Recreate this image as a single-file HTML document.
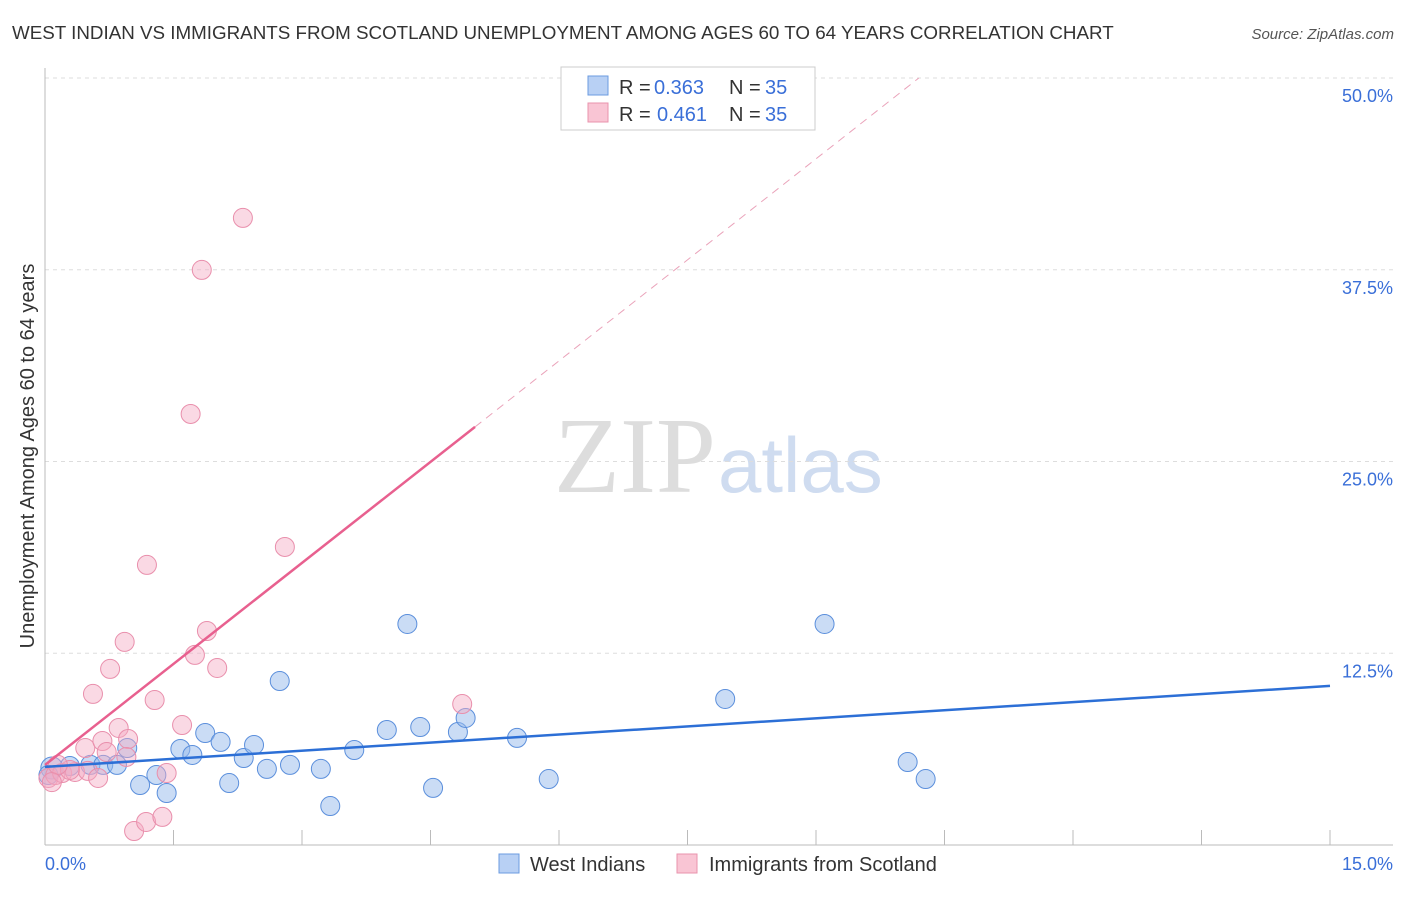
<!DOCTYPE html>
<html><head><meta charset="utf-8"><style>
body{margin:0;background:#fff;font-family:"Liberation Sans",sans-serif}
</style></head><body>
<svg width="1406" height="892" xmlns="http://www.w3.org/2000/svg" font-family="Liberation Sans, sans-serif">
<text x="12" y="39" font-size="18.8" fill="#333">WEST INDIAN VS IMMIGRANTS FROM SCOTLAND UNEMPLOYMENT AMONG AGES 60 TO 64 YEARS CORRELATION CHART</text>
<text x="1394" y="39" font-size="15" fill="#555" font-style="italic" text-anchor="end">Source: ZipAtlas.com</text>
<text x="0" y="0" transform="translate(34,456) rotate(-90)" font-size="20" fill="#333" text-anchor="middle">Unemployment Among Ages 60 to 64 years</text>
<text x="716" y="492" font-size="108" fill="#ddd" font-family="Liberation Serif, serif" text-anchor="end">ZIP</text>
<text x="718" y="492" font-size="78" fill="#cfdcf0">atlas</text>
<g id="grid"></g>
<g id="marks"></g>
<rect x="561" y="67" width="254" height="63" fill="#fff" stroke="#ccc"/>
<rect x="588" y="76" width="20" height="19" fill="#b8d0f4" stroke="#6b9be0"/>
<rect x="588" y="103" width="20" height="19" fill="#f9c5d4" stroke="#e993ad"/>
<g font-size="20" fill="#333">
<text x="619" y="94">R =</text><text x="654" y="94" fill="#3a6fd8">0.363</text><text x="729" y="94">N =</text><text x="765" y="94" fill="#3a6fd8">35</text></g>
<g font-size="20" fill="#333">
<text x="619" y="121">R =</text><text x="657" y="121" fill="#3a6fd8">0.461</text><text x="729" y="121">N =</text><text x="765" y="121" fill="#3a6fd8">35</text></g>
<rect x="499" y="854" width="20" height="19" fill="#b8d0f4" stroke="#6b9be0"/>
<text x="530" y="871" font-size="20" fill="#333">West Indians</text>
<rect x="677" y="854" width="20" height="19" fill="#f9c5d4" stroke="#e993ad"/>
<text x="709" y="871" font-size="20" fill="#333">Immigrants from Scotland</text>
</svg>
<script>
const xTicks=[0,1.5,3,4.5,6,7.5,9,10.5,12,13.5,15];
const yTicks=[12.5,25,37.5,50];
const yTickLabels=["12.5%","25.0%","37.5%","50.0%"];
const xEndLabels=["0.0%","15.0%"];
const blueX=[0.08,0.29,0.53,0.68,0.84,0.96,1.11,1.30,1.42,1.58,1.72,1.87,2.05,2.15,2.32,2.44,2.59,2.74,2.86,3.22,3.33,3.61,3.99,4.23,4.38,4.53,4.82,4.91,5.51,5.88,7.94,9.10,10.07,10.28,0.04];
const blueY=[5.02,5.15,5.22,5.22,5.22,6.32,3.91,4.56,3.39,6.26,5.87,7.30,6.72,4.04,5.67,6.52,4.96,10.69,5.22,4.96,2.54,6.19,7.50,14.41,7.69,3.72,7.37,8.28,6.98,4.30,9.52,14.41,5.41,4.30,4.56];
const pinkX=[0.04,0.12,0.20,0.35,0.50,0.47,0.56,0.62,0.67,0.72,0.76,0.86,0.93,0.97,1.04,1.18,1.19,1.28,1.37,1.42,1.60,1.70,1.75,1.83,1.89,2.01,2.31,2.80,4.87,0.95,0.29,0.15,0.08];
const pinkY=[4.37,4.56,4.69,4.76,4.83,6.32,9.85,4.37,6.78,6.06,11.48,7.63,13.24,6.91,0.91,1.50,18.26,9.45,1.83,4.69,7.82,28.10,12.39,37.49,13.95,11.54,40.88,19.43,9.19,5.74,4.89,5.22,4.10];
const blueLine=[5.09,10.37]; // y at x=0 and x=15
const pinkLine=[5.22,4.39]; // intercept, slope
const NS="http://www.w3.org/2000/svg";
const X=v=>45+v*(1285/15), Y=v=>845-v*(767/50);
function mk(t,a,p){const e=document.createElementNS(NS,t);for(const k in a)e.setAttribute(k,a[k]);p.appendChild(e);return e;}
const g=document.getElementById('grid'), m=document.getElementById('marks');
yTicks.forEach((t,i)=>{
 const l=mk('line',{x1:45,x2:1393,y1:Y(t),y2:Y(t),stroke:'#ddd','stroke-dasharray':'4,4'},g);
 
 
 const tx=mk('text',{x:1393,y:Y(t)+24,'font-size':18,fill:'#3a6fd8','text-anchor':'end'},g);
 tx.textContent=yTickLabels[i];
 
 
});
const ax=mk('line',{x1:45,x2:45,y1:68,y2:845,stroke:'#bbb'},g);


const bx=mk('line',{x1:45,x2:1393,y1:845,y2:845,stroke:'#bbb'},g);


xTicks.forEach(t=>{
 const l=mk('line',{x1:X(t),x2:X(t),y1:830,y2:845,stroke:'#bbb'},g);
 
 
});
[[0,'start',45],[15,'end',1393]].forEach((d,i)=>{
 const tx=mk('text',{x:d[2],y:870,'font-size':18,fill:'#3a6fd8','text-anchor':d[1]},g);
 tx.textContent=xEndLabels[i];
 
 
});
blueX.forEach((v,i)=>{
 const c=mk('circle',{cx:X(v),cy:Y(blueY[i]),r:i==0?11:9.5,fill:'rgba(150,185,235,0.5)',stroke:'#5b8fdc','stroke-width':1},m);
 
 
});
pinkX.forEach((v,i)=>{
 const c=mk('circle',{cx:X(v),cy:Y(pinkY[i]),r:9.5,fill:'rgba(245,170,195,0.45)',stroke:'#e98fac','stroke-width':1},m);
 
 
});
const bl=mk('line',{x1:X(0),y1:Y(blueLine[0]),x2:X(15),y2:Y(blueLine[1]),stroke:'#2c6fd6','stroke-width':2.5},m);


const xs=5.02, xe=(50-pinkLine[0])/pinkLine[1];
const pl=mk('line',{x1:X(0),y1:Y(pinkLine[0]),x2:X(xs),y2:Y(pinkLine[0]+pinkLine[1]*xs),stroke:'#e8608f','stroke-width':2.5},m);


const pd=mk('line',{x1:X(xs),y1:Y(pinkLine[0]+pinkLine[1]*xs),x2:X(xe),y2:Y(50),stroke:'#eaa3ba','stroke-width':1,'stroke-dasharray':'8,6'},m);


</script>
</body></html>
